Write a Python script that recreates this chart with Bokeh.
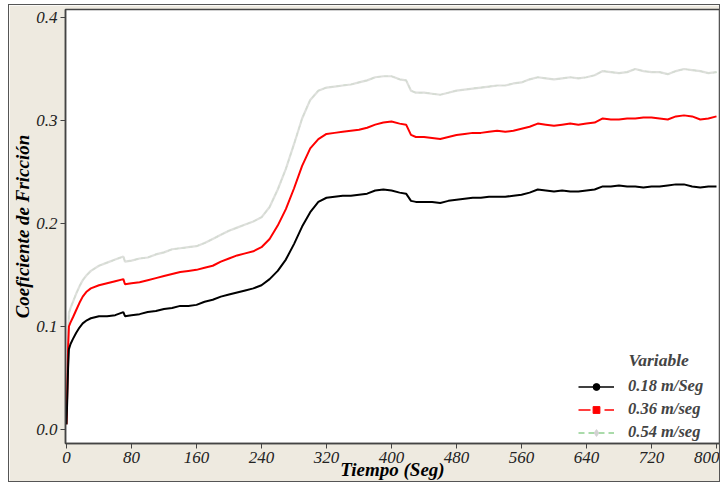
from bokeh.plotting import figure
from bokeh.embed import file_html
from bokeh.resources import INLINE
from bokeh.models import Legend, LegendItem, Label, FixedTicker, CustomJSTickFormatter

t = [0, 1, 2, 3, 5, 8, 12, 16, 20, 25, 30, 40, 50, 60, 70, 72, 80, 90, 100, 110,
     120, 130, 140, 150, 160, 170, 180, 190, 200, 210, 220, 230, 240, 250, 260, 270,
     280, 290, 300, 310, 320, 330, 340, 350, 360, 370, 380, 390, 400, 410, 418, 424,
     430, 440, 450, 460, 470, 480, 490, 500, 510, 520, 530, 540, 550, 560, 570, 580,
     590, 600, 610, 620, 630, 640, 650, 660, 670, 680, 690, 700, 710, 720, 730, 740,
     750, 760, 770, 780, 790, 800]

v018 = [0.005, 0.03, 0.06, 0.078, 0.083, 0.088, 0.094, 0.099, 0.103, 0.106, 0.108, 0.110,
        0.110, 0.111, 0.114, 0.110, 0.111, 0.112, 0.114, 0.115, 0.117, 0.118, 0.120, 0.120,
        0.121, 0.124, 0.126, 0.129, 0.131, 0.133, 0.135, 0.137, 0.140, 0.146, 0.154, 0.165,
        0.180, 0.197, 0.211, 0.221, 0.225, 0.226, 0.227, 0.227, 0.228, 0.229, 0.232, 0.233,
        0.232, 0.230, 0.229, 0.222, 0.221, 0.221, 0.221, 0.220, 0.222, 0.223, 0.224, 0.225,
        0.225, 0.226, 0.226, 0.226, 0.227, 0.228, 0.230, 0.233, 0.232, 0.231, 0.232, 0.231,
        0.231, 0.232, 0.233, 0.236, 0.236, 0.237, 0.236, 0.236, 0.235, 0.236, 0.236, 0.237,
        0.238, 0.238, 0.236, 0.235, 0.236, 0.236]

v036 = [0.005, 0.04, 0.08, 0.100, 0.104, 0.109, 0.116, 0.123, 0.129, 0.134, 0.137, 0.140,
        0.142, 0.144, 0.146, 0.141, 0.142, 0.143, 0.145, 0.147, 0.149, 0.151, 0.153, 0.154,
        0.155, 0.157, 0.159, 0.163, 0.166, 0.169, 0.171, 0.173, 0.177, 0.185, 0.198, 0.214,
        0.234, 0.256, 0.273, 0.282, 0.287, 0.288, 0.289, 0.290, 0.291, 0.293, 0.296, 0.298,
        0.299, 0.297, 0.296, 0.286, 0.284, 0.284, 0.283, 0.282, 0.284, 0.286, 0.287, 0.288,
        0.288, 0.289, 0.290, 0.289, 0.290, 0.292, 0.294, 0.297, 0.296, 0.295, 0.296, 0.297,
        0.296, 0.297, 0.298, 0.302, 0.301, 0.301, 0.302, 0.302, 0.303, 0.303, 0.302, 0.301,
        0.304, 0.305, 0.304, 0.301, 0.302, 0.304]

v054 = [0.005, 0.05, 0.09, 0.113, 0.118, 0.124, 0.132, 0.139, 0.145, 0.150, 0.154, 0.159,
        0.162, 0.165, 0.168, 0.163, 0.164, 0.166, 0.167, 0.170, 0.172, 0.175, 0.176, 0.177,
        0.178, 0.181, 0.185, 0.189, 0.193, 0.196, 0.199, 0.202, 0.206, 0.216, 0.233, 0.253,
        0.277, 0.302, 0.320, 0.329, 0.332, 0.333, 0.334, 0.335, 0.337, 0.339, 0.342, 0.343,
        0.343, 0.340, 0.339, 0.329, 0.327, 0.327, 0.326, 0.325, 0.327, 0.329, 0.330, 0.331,
        0.332, 0.333, 0.334, 0.334, 0.336, 0.337, 0.340, 0.342, 0.341, 0.340, 0.341, 0.342,
        0.341, 0.342, 0.344, 0.348, 0.347, 0.346, 0.347, 0.350, 0.348, 0.347, 0.347, 0.345,
        0.348, 0.350, 0.349, 0.348, 0.346, 0.347]

series_names = ["0.18 m/Seg", "0.36 m/seg", "0.54 m/seg"]
x_ticks = [0, 80, 160, 240, 320, 400, 480, 560, 640, 720, 800]
y_ticks = [0.0, 0.1, 0.2, 0.3, 0.4]
NAN = [float("nan")]

FONT = "Liberation Serif"
BEIGE = "#EEEAE0"

p = figure(width=712, height=478, output_backend="svg", toolbar_location=None,
           x_range=(-1.2, 803.7), y_range=(-0.0136, 0.4078),
           background_fill_color="white", border_fill_color=BEIGE,
           min_border_left=56, min_border_top=4, min_border_right=2, min_border_bottom=40)
p.margin = (4, 0, 0, 8)
p.styles = {"border": "1.5px solid #555", "box-sizing": "border-box"}
p.outline_line_color = "#444"
p.outline_line_width = 1.5
p.grid.visible = False

p.xaxis.ticker = FixedTicker(ticks=x_ticks)
p.yaxis.ticker = FixedTicker(ticks=y_ticks)
p.yaxis.formatter = CustomJSTickFormatter(code="return tick.toFixed(1);")

for ax in (p.xaxis[0], p.yaxis[0]):
    ax.major_label_text_font = FONT
    ax.major_label_text_font_style = "italic"
    ax.major_label_text_font_size = "17px"
    ax.major_label_text_color = "#222"
    ax.axis_label_text_font = FONT
    ax.axis_label_text_font_style = "bold italic"
    ax.axis_label_text_font_size = "19px"
    ax.axis_label_text_color = "black"
    ax.axis_line_color = "#444"
    ax.axis_line_width = 1.5
    ax.major_tick_line_color = "#444"
    ax.major_tick_in = 0
    ax.major_tick_out = 5
    ax.minor_tick_line_color = None
    ax.major_label_standoff = 3

p.yaxis.axis_label_standoff = 0
p.xaxis.axis_label_standoff = -7
p.yaxis.axis_label = "Coeficiente de Fricción"
p.xaxis.axis_label = "Tiempo (Seg)"

r3g = p.line(t, v054, line_color="#8FD08F", line_width=1.2, line_dash="4 3")
r3 = p.line(t, v054, line_color="#DADCD8", line_width=2.2, line_alpha=0.9)
r2 = p.line(t, v036, line_color="#FF0000", line_width=2)
r1 = p.line(t, v018, line_color="black", line_width=2)

# legend-only glyphs (NaN data: nothing drawn in the plot)
m1 = p.scatter(x=NAN, y=NAN, marker="circle", size=10, color="black")
m2 = p.scatter(x=NAN, y=NAN, marker="square", size=9, color="#FF0000")
m3 = p.scatter(x=NAN, y=NAN, marker="diamond", size=16, color="#D2D2D2")
l1 = p.line(x=NAN, y=NAN, line_color="black", line_width=1.5)
l2 = p.line(x=NAN, y=NAN, line_color="#FF0000", line_width=1.5, line_dash="12 6 2 6")
l3 = p.line(x=NAN, y=NAN, line_color="#8FD08F", line_width=1.5, line_dash="6 4")

legend = Legend(items=[
    LegendItem(label=series_names[0], renderers=[l1, m1]),
    LegendItem(label=series_names[1], renderers=[l2, m2]),
    LegendItem(label=series_names[2], renderers=[l3, m3]),
], location=(513, 1))
legend.label_text_font = FONT
legend.label_text_font_style = "bold italic"
legend.label_text_font_size = "16.5px"
legend.glyph_width = 36
legend.glyph_height = 17
legend.label_height = 17
legend.label_standoff = 14
legend.spacing = 3
legend.padding = 4
legend.margin = 0
legend.border_line_color = None
legend.background_fill_color = "white"
legend.background_fill_alpha = 1.0
p.add_layout(legend)

p.add_layout(Label(x=563, y=74, x_units="screen", y_units="screen", text="Variable",
                   level="overlay", text_font=FONT, text_font_style="bold italic",
                   text_font_size="17.5px"))

open("out.html", "w").write(file_html(p, INLINE))
